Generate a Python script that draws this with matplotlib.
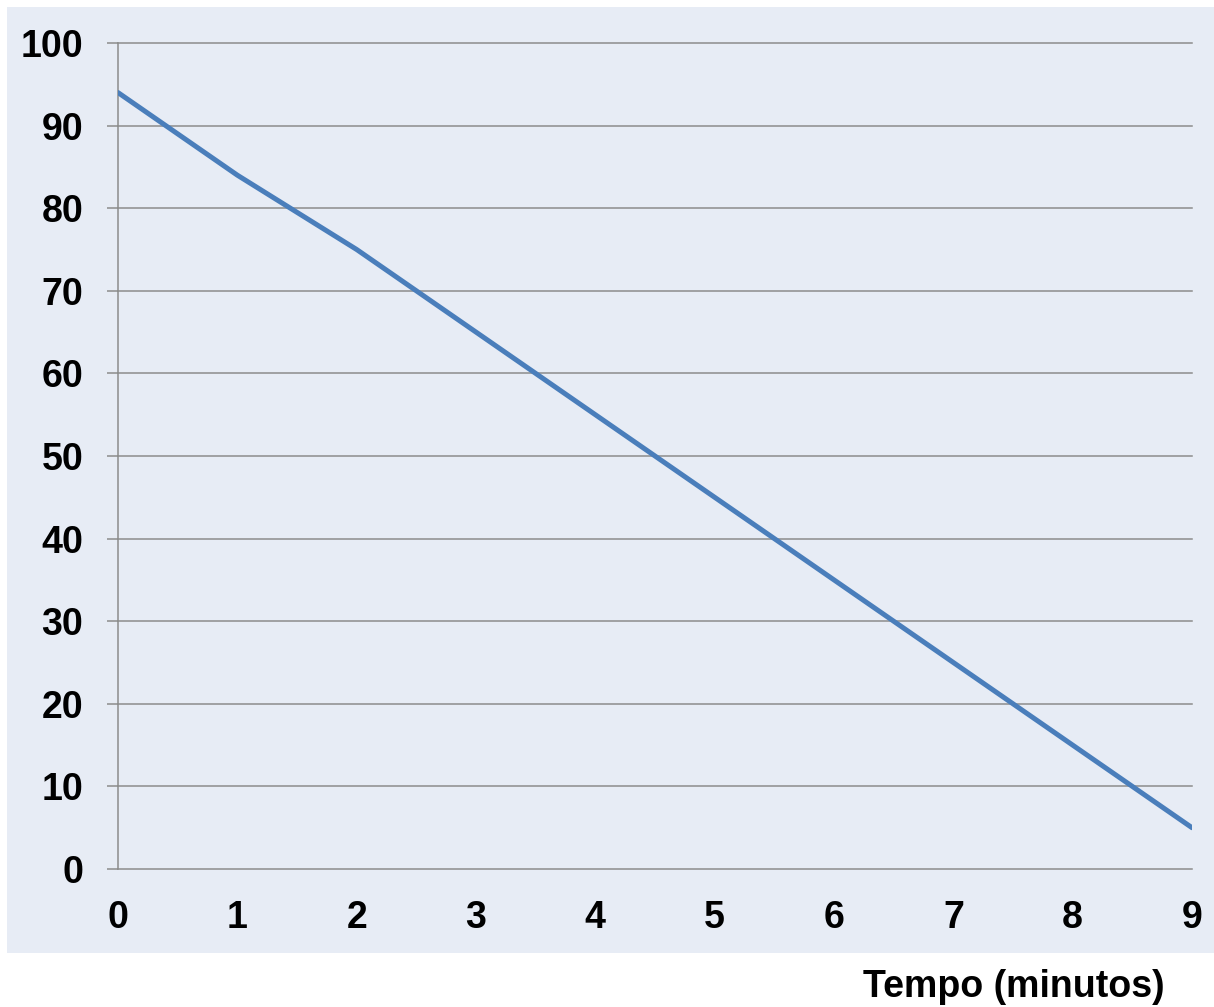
import matplotlib
matplotlib.use("Agg")
import matplotlib.pyplot as plt
from matplotlib.patches import Rectangle

tempo = [0, 1, 2, 3, 4, 5, 6, 7, 8, 9]
valores = [94, 84, 75, 65, 55, 45, 35, 25, 15, 5]
yticks = [0, 10, 20, 30, 40, 50, 60, 70, 80, 90, 100]
xlabel = "Tempo (minutos)"

plt.rcParams['font.family'] = ['Liberation Sans', 'DejaVu Sans']

W, H = 1214, 1007
fig = plt.figure(figsize=(W / 100, H / 100), dpi=100)
fig.patch.set_facecolor('white')
fig.patches.append(Rectangle((7 / W, 54 / H), (W - 7) / W, 946 / H,
                             transform=fig.transFigure, facecolor='#e7ecf5',
                             edgecolor='none', zorder=-1))

ax = fig.add_axes([118 / W, 138 / H, (1192 - 118) / W, (869 - 43) / H])
ax.set_zorder(2)
ax.set_facecolor('none')
ax.plot(tempo, valores, color='#4a7ebb', linewidth=3.6, solid_capstyle='round', zorder=3)

ax.set_xlim(0, 9)
ax.set_ylim(0, 100)
ax.set_yticks(yticks)
ax.set_xticks(tempo)
ax.grid(axis='y', color='#8c8c8c', linewidth=1.1)
for gl in ax.get_ygridlines():
    gl.set_clip_on(False)
ax.grid(axis='x', visible=False)

for s in ['top', 'right', 'bottom']:
    ax.spines[s].set_visible(False)
ax.spines['left'].set_color('#8c8c8c')
ax.spines['left'].set_linewidth(1.1)

ax.tick_params(axis='y', direction='out', length=8, width=1.1, color='#8c8c8c',
               pad=17, labelsize=27)
ax.tick_params(axis='x', length=0, pad=22, labelsize=27)
for lbl in ax.get_xticklabels() + ax.get_yticklabels():
    lbl.set_fontweight('bold')

fig.text(1165 / W, 1 - 987 / H, xlabel, ha='right', va='center',
         fontsize=27, fontweight='bold')

fig.savefig('out.png', dpi=100)
